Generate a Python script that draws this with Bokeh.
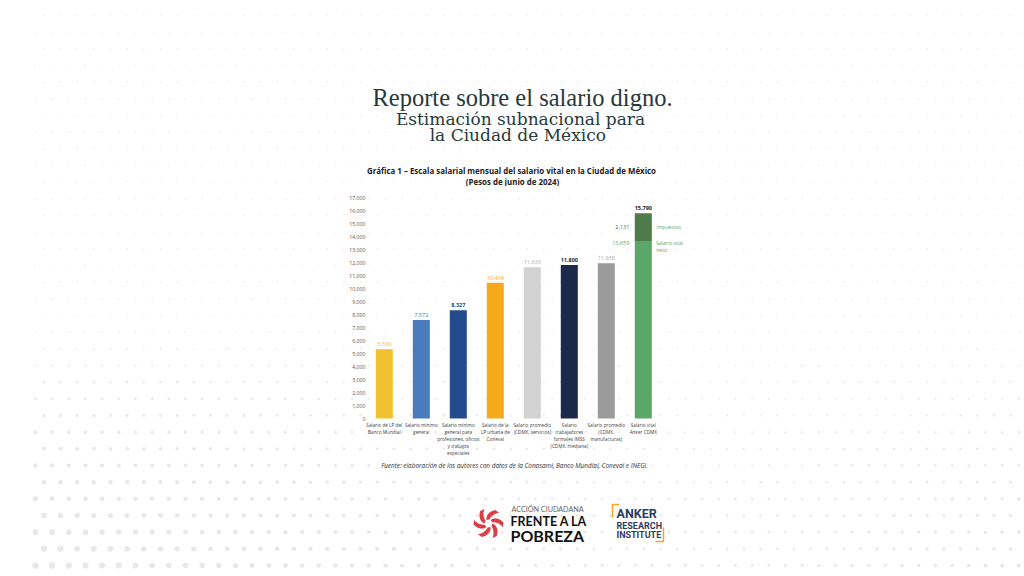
from bokeh.plotting import figure
from bokeh.models import Range1d, FixedTicker, NumeralTickFormatter, ColumnDataSource
from bokeh.layouts import column
from bokeh.embed import file_html
from bokeh.resources import INLINE
from bokeh.core.properties import value
import math

# ---------------- data ----------------
categories = [
    "Salario de LP del\nBanco Mundial",
    "Salario mínimo\ngeneral",
    "Salario mínimo\ngeneral para\nprofesiones, oficios\ny trabajos\nespeciales",
    "Salario de la\nLP urbana de\nConeval",
    "Salario promedio\n(CDMX, servicios)",
    "Salario\ntrabajadores\nformales IMSS\n(CDMX, mediana)",
    "Salario promedio\n(CDMX,\nmanufacturas)",
    "Salario vital\nAnker CDMX",
]
values = [5330, 7572, 8327, 10434, 11639, 11800, 11938, 13659]
tax_value = 2131
total_value = 15790
bar_colors = ["#f0c232", "#4a7bbd", "#244b8c", "#f7a91c", "#d2d2d2", "#1c2a4a", "#9b9b9b", "#5ba767"]
tax_color = "#4f7b4a"
label_colors = ["#f0b429", "#4a7bbd", "#244b8c", "#f7a91c", "#b0b0b0", "#1c2a4a", "#a8a8a8", "#222222"]
label_weights = ["normal", "normal", "bold", "normal", "normal", "bold", "normal", "bold"]
y_ticks = list(range(0, 17001, 1000))
y_max = 17000

FONT = "Open Sans"
W, H = 1024, 576
LB, RB = 30, 0             # common frame borders for all stacked figures
AXIS_X = 369               # page px of the value axis
PX = 37.0                  # px per category
ZERO_Y = 418.0             # page px of value 0
PLOT_H = 221.0             # px for 0..17000
CH_TOP, CH_BOT = 186, 456  # chart figure page extent

x_start = -0.4 - (AXIS_X - LB) / PX
x_end = x_start + (W - LB - RB) / PX
y_end = (ZERO_Y - CH_TOP) * y_max / PLOT_H
y_start = -(CH_BOT - ZERO_Y) * y_max / PLOT_H

# ---------------- decorative dot texture (page px) ----------------
dot_x, dot_y, dot_s = [], [], []
for j in range(-25, 11):
    py = 415 + 16.667 * j
    x0 = 10 if j % 2 == 0 else 18.3
    t = max(0.0, min(1.0, (py - 330) / 235))
    for i in range(62):
        px = x0 + 16.667 * i
        g = max(0.25, 1 - px / 800) + 0.2 * max(0.0, (px - 800) / 200)
        dot_x.append(px)
        dot_y.append(py)
        dot_s.append(1.5 + 5.2 * t * g)
DOT_COLOR = "#e8e8e8"


def blank(y0, y1):
    f = figure(width=W, height=y1 - y0, toolbar_location=None, output_backend="svg",
               x_axis_location=None, y_axis_location=None,
               x_range=Range1d(LB, W - RB), y_range=Range1d(y1, y0),
               min_border_left=LB, min_border_right=RB, min_border_top=0, min_border_bottom=0)
    f.grid.visible = False
    f.outline_line_color = None
    sel = [k for k in range(len(dot_y)) if y0 - 4 <= dot_y[k] <= y1 + 4]
    f.scatter(x=[dot_x[k] for k in sel], y=[dot_y[k] for k in sel], size=[dot_s[k] for k in sel],
              fill_color=DOT_COLOR, line_color=None)
    return f


# ---------------- header (page pixel coords) ----------------
hdr = blank(0, CH_TOP)
hdr.text(x=[522], y=[97], text=["Reporte sobre el salario digno."], text_font=value("Liberation Serif"),
         text_font_size="24.5px", text_color="#27393c", text_align="center", text_baseline="middle")
hdr.text(x=[520], y=[118], text=["Estimación subnacional para"], text_font=value("DejaVu Serif"),
         text_font_size="17px", text_color="#27393c", text_align="center", text_baseline="middle")
hdr.text(x=[520], y=[134], text=["la  Ciudad de México"], text_font=value("DejaVu Serif"),
         text_font_size="17px", text_color="#27393c", text_align="center", text_baseline="middle")
hdr.text(x=[512], y=[170], text=["Gráfica 1  – Escala salarial mensual del salario vital en la Ciudad de México"],
         text_font=value(FONT), text_font_size="7.9px", text_font_style="bold", text_color="#222222",
         text_align="center", text_baseline="middle")
hdr.text(x=[512], y=[181], text=["(Pesos de junio de 2024)"],
         text_font=value(FONT), text_font_size="7.9px", text_font_style="bold", text_color="#222222",
         text_align="center", text_baseline="middle")

# ---------------- chart ----------------
idx = list(range(len(categories)))
p = figure(width=W, height=CH_BOT - CH_TOP, x_range=Range1d(x_start, x_end),
           y_range=Range1d(y_start, y_end),
           toolbar_location=None, output_backend="svg", x_axis_location=None,
           min_border_left=LB, min_border_right=RB, min_border_top=0, min_border_bottom=0)
p.outline_line_color = None
p.grid.visible = False

# texture behind the chart (page px -> chart data)
sel = [k for k in range(len(dot_y)) if CH_TOP - 4 <= dot_y[k] <= CH_BOT + 4]
p.scatter(x=[x_start + (dot_x[k] - LB) / PX for k in sel],
          y=[(ZERO_Y - dot_y[k]) * y_max / PLOT_H for k in sel],
          size=[dot_s[k] for k in sel], fill_color=DOT_COLOR, line_color=None)

src = ColumnDataSource(dict(x=idx, top=values, color=bar_colors,
                            lab=[f"{v:,}" for v in values[:-1]] + [f"{total_value:,}"],
                            laby=values[:-1] + [total_value],
                            labc=label_colors, labw=label_weights, cat=categories,
                            zero=[0] * len(idx)))
p.vbar(x="x", top="top", bottom=0, width=0.46, fill_color="color", line_color=None, source=src)
p.vbar(x=[7], bottom=[values[-1]], top=[values[-1] + tax_value], width=0.46,
       fill_color=tax_color, line_color=None)
p.text(x="x", y="laby", text="lab", text_color="labc", text_font_style="labw",
       text_font=value(FONT), text_font_size="5.5px", text_align="center",
       text_baseline="bottom", y_offset=-3, source=src)
# category labels under the bars
p.text(x="x", y="zero", text="cat", text_font=value(FONT), text_font_size="4.7px",
       text_color="#444444", text_align="center", text_baseline="top", y_offset=3,
       text_line_height=1.2, source=src)

p.text(x=[7], y=[values[-1] + tax_value / 2], text=[f"{tax_value:,}"], x_offset=-14,
       text_font=value(FONT), text_font_size="5.5px", text_color="#4f7b4a",
       text_align="right", text_baseline="middle")
p.text(x=[7], y=[values[-1]], text=[f"{values[-1]:,}"], x_offset=-14, y_offset=0,
       text_font=value(FONT), text_font_size="5.5px", text_color="#5ba767",
       text_align="right", text_baseline="top")
p.text(x=[7], y=[values[-1] + tax_value / 2], text=["Impuestos"], x_offset=13,
       text_font=value(FONT), text_font_size="5px", text_color="#5ba767",
       text_align="left", text_baseline="middle")
p.text(x=[7], y=[values[-1]], text=["Salario vital\nneto"], x_offset=13, y_offset=-1,
       text_font=value(FONT), text_font_size="5px", text_color="#5ba767",
       text_align="left", text_baseline="top", text_line_height=1.2)

p.yaxis.fixed_location = -0.4
p.yaxis.bounds = (0, y_max)
p.yaxis.ticker = FixedTicker(ticks=y_ticks)
p.yaxis.formatter = NumeralTickFormatter(format="0,0")
p.yaxis.axis_line_color = None
p.yaxis.major_tick_line_color = None
p.yaxis.minor_tick_line_color = None
p.yaxis.major_tick_out = 0
p.yaxis.major_tick_in = 0
p.yaxis.minor_tick_out = 0
p.yaxis.major_label_text_font = FONT
p.yaxis.major_label_text_font_size = "5.2px"
p.yaxis.major_label_text_color = "#555555"
p.yaxis.major_label_standoff = 4

# ---------------- footer (page pixel coords) ----------------
ftr = blank(CH_BOT, H)
ftr.text(x=[514], y=[465], text=["Fuente: elaboración de los autores con datos de la Conasami, Banco Mundial, Coneval e INEGI."],
         text_font=value(FONT), text_font_size="6.4px", text_font_style="italic", text_color="#333333",
         text_align="center", text_baseline="middle")

# spiral logo (decorative blades)
cx, cy = 488, 523
blades_x, blades_y = [], []
for b in range(6):
    base = b * math.pi / 3
    outer = [(r, base + 0.09 * (r - 4)) for r in [4 + 0.5 * k for k in range(23)]]
    inner = [(r, base + 0.75 + 0.05 * (r - 4)) for r in [4 + 0.5 * k for k in range(22, -1, -1)]]
    pts = outer + inner
    blades_x.append([cx + r * math.cos(a) for r, a in pts])
    blades_y.append([cy + r * math.sin(a) for r, a in pts])
ftr.patches(xs=blades_x, ys=blades_y, fill_color="#d8343d", line_color=None, fill_alpha=0.95)

ftr.text(x=[511], y=[509], text=["ACCIÓN CIUDADANA"], text_font=value("Lato"), text_font_size="7.2px",
         text_color="#666666", text_align="left", text_baseline="middle")
ftr.text(x=[510], y=[521], text=["FRENTE A LA"], text_font=value("Lato"), text_font_size="12.5px",
         text_font_style="bold", text_color="#111111", text_align="left", text_baseline="middle")
ftr.text(x=[510], y=[535], text=["POBREZA"], text_font=value("Lato"), text_font_size="16px",
         text_font_style="bold", text_color="#111111", text_align="left", text_baseline="middle")

# Anker logo
ftr.multi_line(xs=[[612, 612, 619], [663, 663, 655]], ys=[[517, 504, 504], [527, 541, 541]],
               line_color="#f5a623", line_width=1.5)
ftr.text(x=[616], y=[513], text=["ANKER"], text_font=value("Roboto"), text_font_size="12.5px",
         text_font_style="bold", text_color="#2f3e5f", text_align="left", text_baseline="middle")
ftr.text(x=[616], y=[525], text=["RESEARCH"], text_font=value("Roboto"), text_font_size="9px",
         text_font_style="bold", text_color="#2f3e5f", text_align="left", text_baseline="middle")
ftr.text(x=[616], y=[534], text=["INSTITUTE"], text_font=value("Roboto"), text_font_size="9px",
         text_font_style="bold", text_color="#2f3e5f", text_align="left", text_baseline="middle")

layout = column(hdr, p, ftr, spacing=0)
open("out.html", "w").write(file_html(layout, INLINE))
